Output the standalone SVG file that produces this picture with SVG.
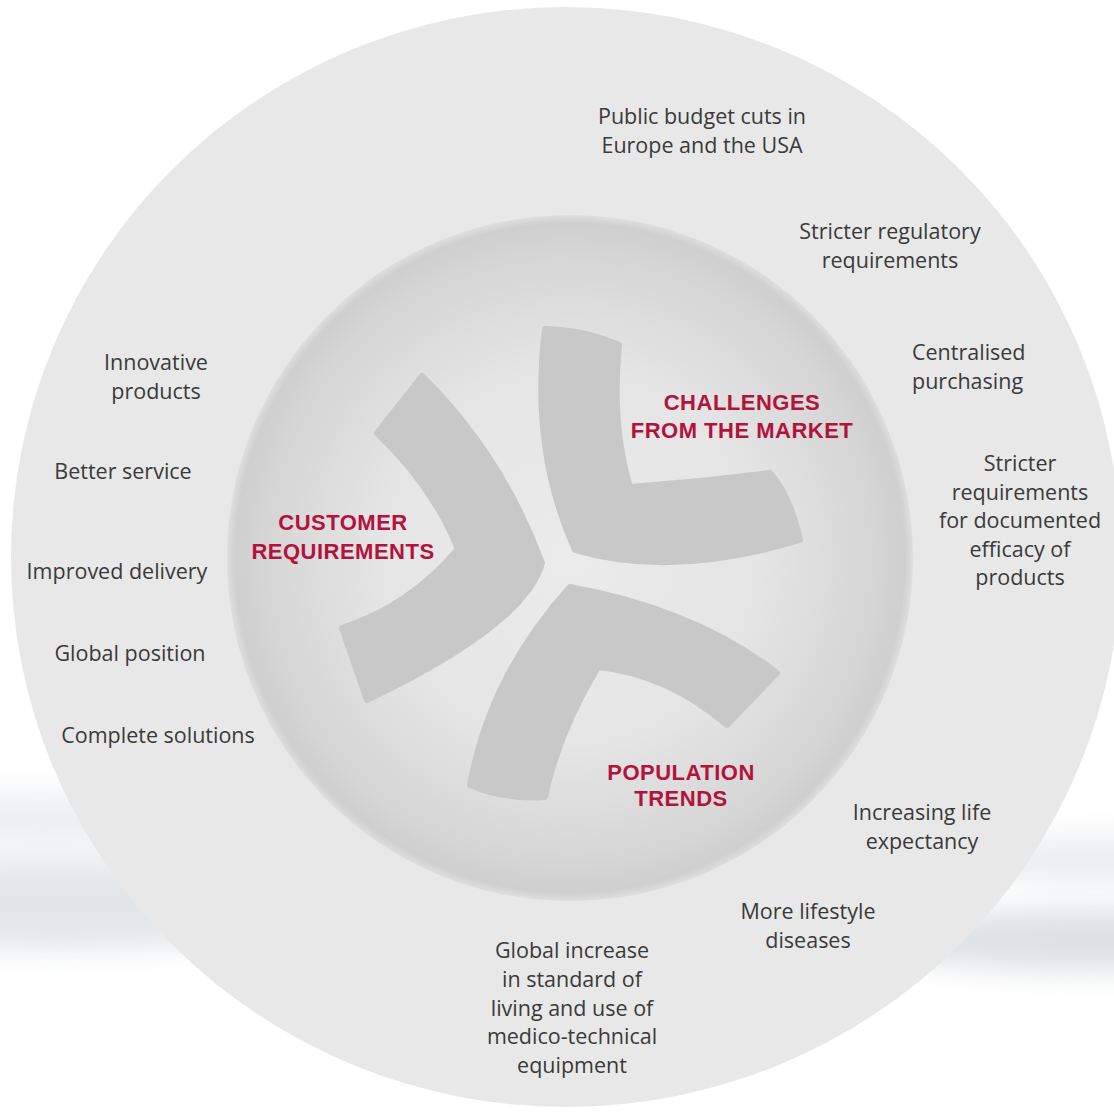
<svg xmlns="http://www.w3.org/2000/svg" width="1114" height="1115" viewBox="0 0 1114 1115">
<defs>
<radialGradient id="sphere" cx="570" cy="558" r="343" gradientUnits="userSpaceOnUse">
<stop offset="0" stop-color="#ebebeb"/>
<stop offset="0.55" stop-color="#e5e5e5"/>
<stop offset="0.9" stop-color="#d5d5d5"/>
<stop offset="0.975" stop-color="#cfcfcf"/>
<stop offset="1" stop-color="#dedede"/>
</radialGradient>
<filter id="blur" x="-50%" y="-50%" width="200%" height="200%">
<feGaussianBlur stdDeviation="14"/>
</filter>
<style>
.item{font-family:"Open Sans","Noto Sans","Liberation Sans",sans-serif;font-size:21.5px;fill:#3a3a3a;text-anchor:middle}
.head{font-family:"Liberation Sans",Arial,sans-serif;font-size:22px;font-weight:bold;fill:#b3123d;text-anchor:middle;letter-spacing:0.5px}
.arm{fill:#c8c8c8;stroke:#c8c8c8;stroke-width:6;stroke-linejoin:round}
</style>
</defs>
<rect width="1114" height="1115" fill="#ffffff"/>
<g id="background-streaks" filter="url(#blur)">
<ellipse cx="60" cy="905" rx="260" ry="45" fill="#e3e6e9"/>
<ellipse cx="40" cy="820" rx="200" ry="30" fill="#eef0f2"/>
<ellipse cx="1090" cy="940" rx="220" ry="32" fill="#dfe2e5"/>
<ellipse cx="1100" cy="860" rx="150" ry="25" fill="#eceef0"/>
</g>
<ellipse id="outer-ring" cx="566" cy="557" rx="555" ry="550" fill="#e8e8e8"/>
<circle id="inner-disc" cx="570" cy="558" r="343" fill="url(#sphere)"/>
<g id="shapes">
<path id="arm-customer" class="arm" d="M422,376 Q502,455 542,563 Q525.5,624.5 367,700 L342,628 Q410,606 458,549 Q432,485 377,433 Z"/>
<path id="arm-market" class="arm" d="M545,329 Q585,330 619,345 Q611,424 630,487 Q700,482 770,473 Q790,495 800,540 Q672,579 575,550 Q530,450 545,329 Z"/>
<path id="arm-population" class="arm" d="M570,587 Q696,610 777,673 L727,725 Q667,674 598,667 Q558,734 545,797 Q505,800 470,785 Q490,675 570,587 Z"/>
</g>
<g id="node-challenges">
<text class="head" x="742" y="410">CHALLENGES</text>
<text class="head" x="742" y="438">FROM THE MARKET</text>
</g>
<g id="node-customer">
<text class="head" x="343" y="530">CUSTOMER</text>
<text class="head" x="343" y="559">REQUIREMENTS</text>
</g>
<g id="node-population">
<text class="head" x="681" y="780">POPULATION</text>
<text class="head" x="681" y="806">TRENDS</text>
</g>
<g id="item-budget">
<text class="item" x="702" y="124">Public budget cuts in</text>
<text class="item" x="702" y="153">Europe and the USA</text>
</g>
<g id="item-regulatory">
<text class="item" x="890" y="239">Stricter regulatory</text>
<text class="item" x="890" y="268">requirements</text>
</g>
<g id="item-purchasing">
<text class="item" x="912" y="360" style="text-anchor:start">Centralised</text>
<text class="item" x="912" y="389" style="text-anchor:start">purchasing</text>
</g>
<g id="item-efficacy">
<text class="item" x="1020" y="471">Stricter</text>
<text class="item" x="1020" y="500">requirements</text>
<text class="item" x="1020" y="528">for documented</text>
<text class="item" x="1020" y="557">efficacy of</text>
<text class="item" x="1020" y="585">products</text>
</g>
<g id="item-innovative">
<text class="item" x="156" y="370">Innovative</text>
<text class="item" x="156" y="399">products</text>
</g>
<g id="item-service"><text class="item" x="123" y="479">Better service</text></g>
<g id="item-delivery"><text class="item" x="117" y="579">Improved delivery</text></g>
<g id="item-global"><text class="item" x="130" y="661">Global position</text></g>
<g id="item-solutions"><text class="item" x="158" y="743">Complete solutions</text></g>
<g id="item-life">
<text class="item" x="922" y="820">Increasing life</text>
<text class="item" x="922" y="849">expectancy</text>
</g>
<g id="item-lifestyle">
<text class="item" x="808" y="919">More lifestyle</text>
<text class="item" x="808" y="948">diseases</text>
</g>
<g id="item-standard">
<text class="item" x="572" y="958">Global increase</text>
<text class="item" x="572" y="987">in standard of</text>
<text class="item" x="572" y="1016">living and use of</text>
<text class="item" x="572" y="1044">medico-technical</text>
<text class="item" x="572" y="1073">equipment</text>
</g>
</svg>
